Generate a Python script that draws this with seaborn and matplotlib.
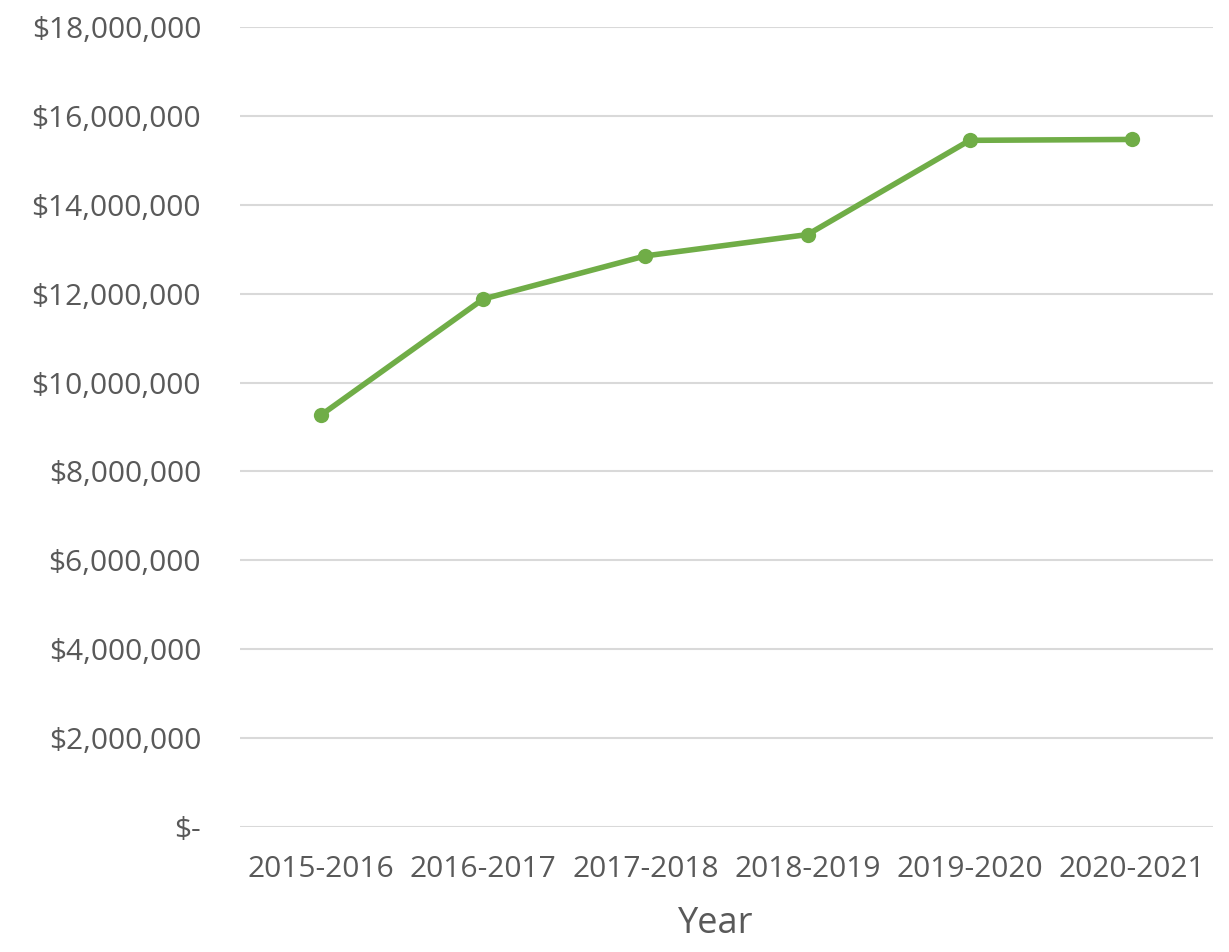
import matplotlib
matplotlib.use("Agg")
import matplotlib.pyplot as plt
import seaborn as sns
import pandas as pd
from matplotlib.ticker import FuncFormatter, MultipleLocator

years = ["2015-2016", "2016-2017", "2017-2018", "2018-2019", "2019-2020", "2020-2021"]
amounts = [9270000, 11880000, 12850000, 13330000, 15450000, 15470000]

df = pd.DataFrame({"Year": years, "Amount": amounts})

sns.set_theme(style="white")
plt.rcParams["font.family"] = ["Open Sans", "DejaVu Sans"]

text_color = "#595959"
grid_color = "#D9D9D9"
line_color = "#70AD47"

fig = plt.figure(figsize=(12.29, 9.52), dpi=100)
ax = fig.add_axes([240 / 1229, 1 - 827 / 952, (1213 - 240) / 1229, (827 - 27) / 952])

sns.lineplot(data=df, x="Year", y="Amount", ax=ax, color=line_color,
             linewidth=4, marker="o", markersize=11, markeredgewidth=0,
             sort=False)

ax.set_xlim(-0.5, len(years) - 0.5)
ax.set_ylim(0, 18000000)
ax.yaxis.set_major_locator(MultipleLocator(2000000))


def money(v, pos):
    if abs(v) < 1:
        return "$-"
    return "${:,.0f}".format(v)


ax.yaxis.set_major_formatter(FuncFormatter(money))
ax.grid(axis="y", color=grid_color, linewidth=1.5)
ax.grid(axis="x", visible=False)
ax.set_axisbelow(True)
for side in ["top", "right", "left", "bottom"]:
    ax.spines[side].set_visible(False)

ax.tick_params(axis="both", length=0, labelsize=21.5, labelcolor=text_color)
ax.tick_params(axis="y", pad=28)
ax.tick_params(axis="x", pad=20)
ax.set_ylabel("")
ax.set_xlabel("Year", fontsize=26, color=text_color)
ax.xaxis.set_label_coords(0.489, -0.099)
ax.xaxis.label.set_verticalalignment("top")

fig.savefig("out.png", dpi=100, facecolor="white")
